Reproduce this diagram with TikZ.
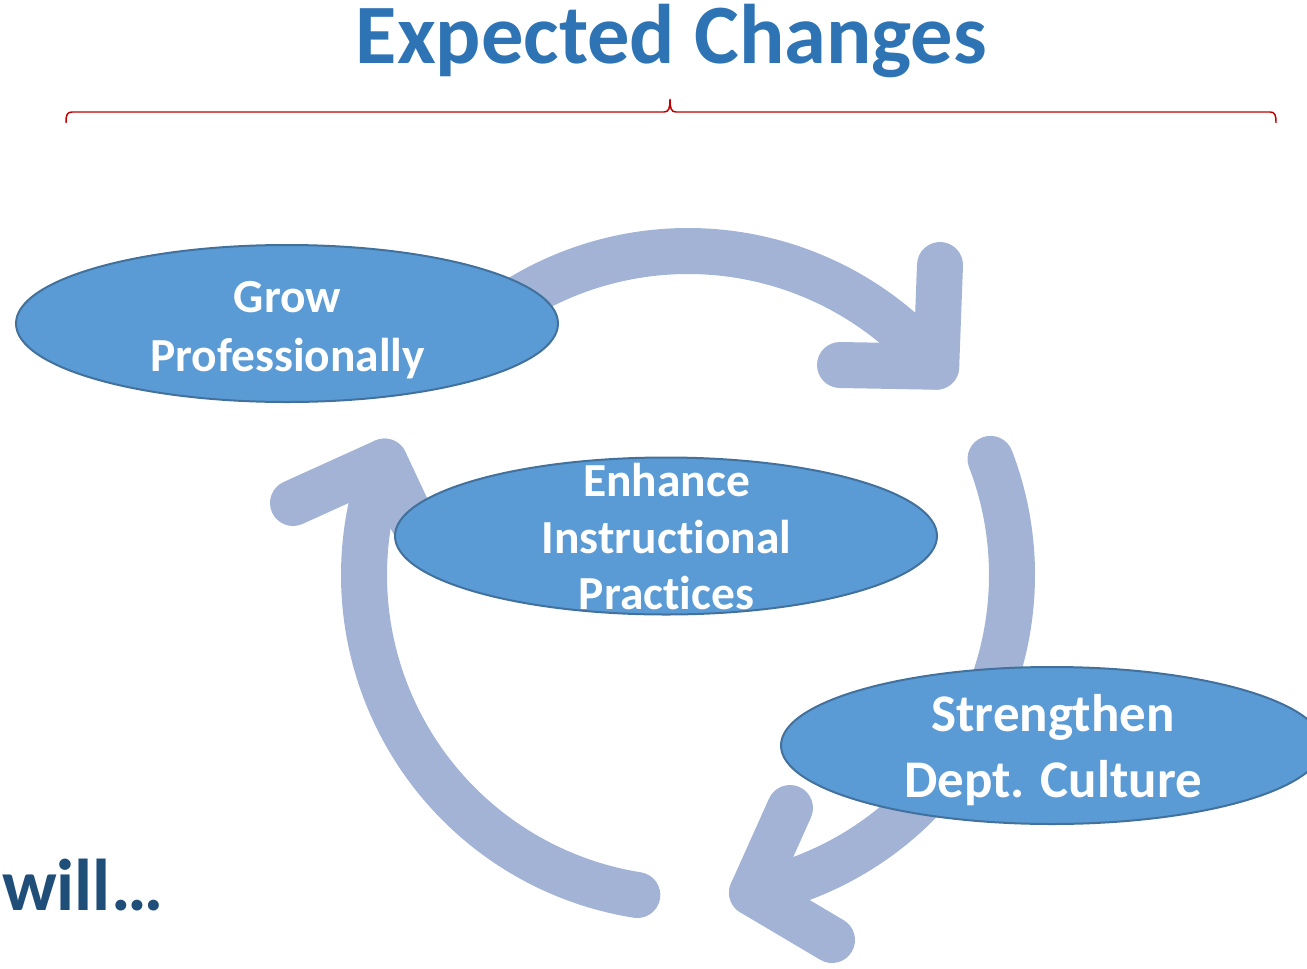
\documentclass[tikz,border=0pt]{standalone}
\usepackage{fontspec}
\setmainfont{Carlito}[Ligatures={NoCommon,NoContextual}]
\usetikzlibrary{shapes.geometric}
\definecolor{arrowc}{HTML}{A2B3D6}
\definecolor{ellfill}{HTML}{5B9BD5}
\definecolor{elldraw}{HTML}{41719C}
\definecolor{titlec}{HTML}{2E74B5}
\definecolor{willc}{HTML}{1F4E79}
\definecolor{bracec}{HTML}{C00000}
\begin{document}
\begin{tikzpicture}[x=0.75pt,y=-0.75pt,
  cyc/.style={draw=arrowc, line width=34.5pt, line cap=round, line join=round},
  bubble/.style={ellipse, fill=ellfill, draw=elldraw, line width=1.5pt,
    minimum width=406.5pt, minimum height=117.75pt, inner sep=0pt},
  lbl/.style={text=white, font=\bfseries\fontsize{35.6}{40}\selectfont, anchor=base, inner sep=0pt},
  lblbig/.style={lbl, font=\bfseries\fontsize{39.7}{44}\selectfont},
]
\useasboundingbox (0,0) rectangle (1307,968);

% title and brace
\node[font=\bfseries\fontsize{63.4}{70}\selectfont, text=titlec, anchor=base, inner sep=0pt]
  (title) at (671.5,63) {Expected Changes};
\draw[bracec, line width=1.1pt] (66,123) .. controls (66,115) and (67,112) .. (72,112)
  -- (664,112) .. controls (669,112) and (670,108) .. (670,99)
  .. controls (670,108) and (671,112) .. (676,112) -- (1270,112)
  .. controls (1275,112) and (1276,115) .. (1276,123);

% cycle arrows
\coordinate (c) at (688,575);
% top arrow
\draw[cyc] ([shift={(-135:324)}]c) arc[start angle=-135, end angle=-40, radius=324] coordinate (tipA);
\coordinate (a1) at (840,365);
\coordinate (a2) at (940,265);
\draw[cyc] (a1) -- (tipA) -- (a2);
% right arrow
\draw[cyc] ([shift={(-21:324)}]c) arc[start angle=-21, end angle=78.6, radius=324] coordinate (tipB);
\coordinate (b1) at (790,808);
\coordinate (b2) at (832,940);
\draw[cyc] (b1) -- (tipB) -- (b2);
% left arrow
\draw[cyc] ([shift={(99:324)}]c) arc[start angle=99, end angle=200.5, radius=324] coordinate (tipC);
\coordinate (c1) at (293,503);
\coordinate (c2) at (412,520);
\draw[cyc] (c1) -- (tipC) -- (c2);

% ellipses
\node[bubble] (grow) at (287,323.5) {};
\node[bubble] (enh) at (666,536) {};
\node[bubble] (str) at (1052,745.5) {};

\node[lbl] (g1) at (287.5,312) {Grow};
\node[lbl] (g2) at (287.5,371) {Professionally};
\node[lbl] (e1) at (666.5,496) {Enhance};
\node[lbl] (e2) at (666.5,553) {Instruct\kern0pt ional};
\node[lbl] (e3) at (666.5,609) {Pract\kern0pt ices};
\node[lblbig] (s1) at (1053,731) {Strengthen};
\node[lblbig] (s2) at (1053,797) {Dept. Culture};

\node[font=\bfseries\fontsize{55}{60}\selectfont, text=willc, anchor=base west, inner sep=0pt]
  (will) at (2,910) {will…};
\end{tikzpicture}
\end{document}
